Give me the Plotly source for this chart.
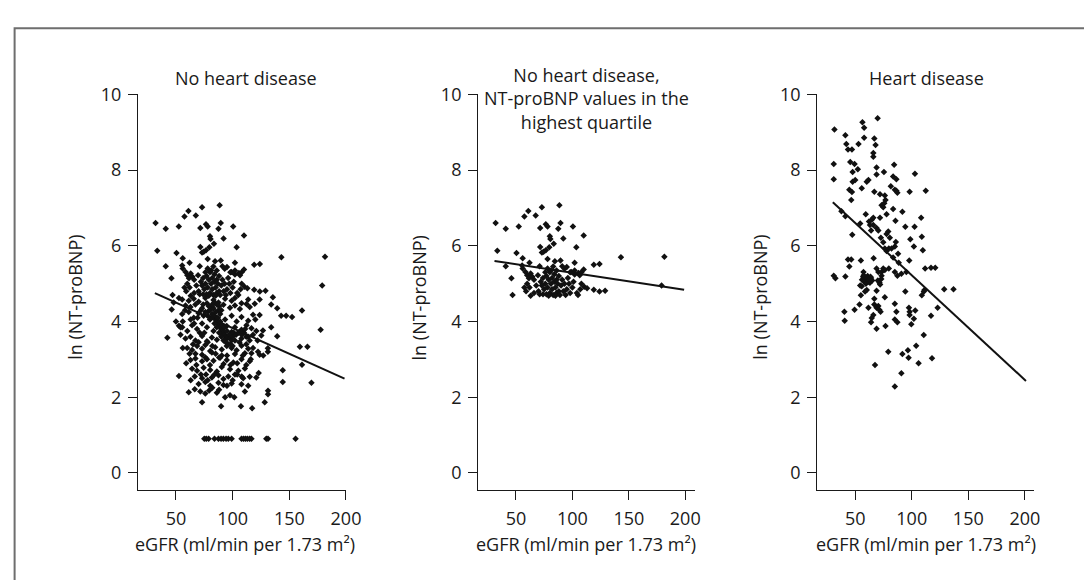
import plotly.graph_objects as go

# ---------------- data ----------------
# Panel 1: no heart disease (eGFR, ln NT-proBNP)
nhd_x = [
    32, 33.5, 41, 41, 46, 47, 50.5, 52.5, 56, 57.5, 61, 62, 55.5, 56, 67.5, 73,
    88.5, 71.5, 76.5, 78, 87.5, 89.5, 100.5, 80, 80.5, 92, 110, 71.5, 73, 74.5, 76.5,
    79.5, 83.5, 103.5, 71, 78, 84.5, 89.5, 102, 91, 93, 95, 99, 102, 105.5, 106.5, 110,
    119, 124, 143, 181.5, 179, 58.5, 60, 61.5, 63, 64.5, 69.5, 57.5, 62, 110.5, 113, 119,
    124, 129, 63, 66, 70,
    72, 73, 74, 75, 76, 77, 78, 79, 80, 80, 81, 82, 82, 83, 84, 84, 85, 86, 86, 87, 88,
    88, 89, 90, 91, 92, 93, 94, 95, 96, 97, 98, 100, 101, 104, 105, 107, 108, 71, 74,
    77, 79, 85, 68, 66, 60, 59, 78, 81, 76, 83, 86, 98, 102, 108,
    52.6, 55.5, 61.3, 65.7, 70, 75.9, 83.1, 87.5, 93.3, 99.1, 102, 107.8, 113.7, 123.8, 135.5,
    46.2, 58.4, 62.8, 67.2, 73, 77.3, 81.7, 87.5, 91.9, 97.7, 102, 106.4, 112.2, 115.1, 119.5, 134, 139.3,
    142.8, 147.2, 152.4, 55.5, 61.3, 65.7, 70, 74.4, 78.8, 84.6, 89, 93.3, 99.1, 103.5, 107.8, 113.7, 118, 123.8,
    161.2, 52.6, 54, 55.5, 64.2, 68.6, 73, 77.3, 83.1, 87.5, 90.4, 94.8, 99.1, 102, 107.8, 112.2, 116.6, 120.9,
    134, 126.7, 42.4,
    58.4, 62.8, 67.2, 73, 77.3, 81.7, 86.1, 90.4, 96.2, 102, 107.8, 113.7, 125.3, 139.3, 177.6,
    59.9, 64.2, 68.6, 73, 75.9, 80.2, 84.6, 90.4, 94.8, 99.1, 103.5, 107.8, 113.7, 118, 131.1, 159.3, 166,
    67.2, 73, 81.7, 90.4, 102, 110.8, 116.6, 122.4, 123.8, 131.1,
    62.8, 67.2, 73, 77.3, 83.1, 88.9, 94.8, 100.6, 107.8, 115.1, 161.2,
    64.2, 68.6, 74.4, 80.2, 86.1, 90.4, 97.7, 105, 110.8, 123, 144.2,
    52.6, 66.6, 73, 76.5, 81.7, 87.5, 91.9, 96.2, 102, 109.3, 115.1, 120.9,
    70, 75.9, 80.2, 87.5, 91.9, 99.1, 107.8, 113.7, 144.2, 169.5,
    61.3, 66.6, 71.5, 75.9, 79.3, 86.1, 93.3, 97.7, 101.5, 110.8, 131.2, 131.2,
    73, 89.8, 107.3, 117.2, 128.3,
    80, 82, 84, 85, 86, 87, 88, 89, 90, 91, 92, 93, 94, 95, 96, 97, 98, 99, 100, 101, 103,
    105, 107, 108, 110, 111, 112, 83, 85, 87, 89, 91, 93, 95, 79, 81, 84, 86, 88, 90, 92,
    94, 96, 98, 100, 82, 84, 86, 88, 90, 76, 78, 80, 72, 74,
    56, 60, 63, 66, 69, 71, 75, 78, 82, 85, 88, 92, 95, 98, 104, 106, 109, 112, 115, 118,
    120, 122, 127, 80, 84, 76, 70, 65, 62, 68, 72, 78, 82, 88, 95, 100, 104, 108, 112, 116,
    63, 59, 56, 54, 50, 48, 58,
    75, 76.7, 78.8, 84, 87.5, 89.8, 91.8, 94.2, 96.2, 99.1, 107.8, 109.6, 111.3, 113, 115,
    116.6, 129.7, 131.2, 155.5,
]
nhd_y = [
    6.60, 5.87, 6.45, 5.46, 5.14, 4.70, 5.81, 6.51, 5.67, 6.77, 6.92, 5.55, 5.48, 5.40, 6.80, 7.02,
    7.07, 6.47, 6.57, 6.51, 6.45, 6.60, 6.51, 6.25, 6.18, 6.19, 6.27, 5.97, 5.82, 5.84, 5.88,
    5.96, 6.05, 5.96, 5.46, 5.65, 5.59, 5.61, 5.55, 5.46, 5.39, 5.44, 5.31, 5.24, 5.28, 5.22, 5.37,
    5.50, 5.52, 5.70, 5.71, 4.95, 5.31, 5.22, 5.14, 5.27, 5.18, 5.22, 4.90, 4.90, 4.92, 4.88, 4.84,
    4.79, 4.81, 4.68, 4.75, 4.80,
    5.05, 4.95, 5.15, 4.85, 5.00, 5.20, 4.90, 5.10, 4.75, 5.30, 5.00, 4.85, 5.15, 4.70, 5.05, 5.25,
    4.90, 4.75, 5.10, 5.00, 4.80, 5.20, 4.70, 4.95, 5.10, 4.80, 5.00, 4.70, 4.85, 5.15, 5.00, 4.75,
    4.90, 5.05, 4.75, 4.70, 4.85, 5.00, 4.72, 4.72, 4.72, 4.68, 4.68, 4.95, 5.10, 5.00, 4.80, 5.40,
    5.35, 5.30, 5.45, 5.35, 5.30, 5.35, 5.30,
    4.62, 4.58, 4.55, 4.60, 4.52, 4.62, 4.57, 4.50, 4.60, 4.55, 4.62, 4.48, 4.58, 4.58, 4.64,
    4.32, 4.42, 4.38, 4.45, 4.35, 4.48, 4.40, 4.30, 4.44, 4.36, 4.42, 4.33, 4.46, 4.38, 4.47, 4.45, 4.35,
    4.15, 4.15, 4.12, 4.20, 4.25, 4.10, 4.22, 4.15, 4.28, 4.10, 4.20, 4.05, 4.15, 4.00, 4.12, 4.02, 4.18, 4.17,
    4.29, 3.89, 3.85, 3.85, 3.90, 3.80, 3.95, 3.85, 3.75, 3.92, 3.80, 3.88, 3.72, 3.85, 3.78, 3.90, 3.82, 3.75,
    3.85, 3.76, 3.57,
    3.55, 3.60, 3.50, 3.62, 3.48, 3.58, 3.52, 3.65, 3.60, 3.50, 3.55, 3.60, 3.63, 3.61, 3.78,
    3.30, 3.25, 3.35, 3.28, 3.38, 3.22, 3.32, 3.26, 3.35, 3.30, 3.24, 3.36, 3.28, 3.30, 3.29, 3.33, 3.33,
    3.15, 3.12, 3.18, 3.10, 3.14, 3.16, 3.16, 3.20, 3.12, 3.20,
    2.98, 3.02, 2.95, 3.00, 2.96, 3.04, 2.98, 2.92, 3.00, 2.95, 2.86,
    2.75, 2.70, 2.78, 2.72, 2.68, 2.80, 2.74, 2.70, 2.76, 2.64, 2.71,
    2.56, 2.55, 2.50, 2.60, 2.52, 2.58, 2.48, 2.55, 2.60, 2.50, 2.54, 2.52,
    2.35, 2.40, 2.30, 2.38, 2.32, 2.36, 2.34, 2.30, 2.40, 2.38,
    2.13, 2.21, 2.15, 2.10, 2.18, 2.12, 2.00, 2.05, 2.00, 2.15, 2.17, 2.08,
    1.87, 1.76, 1.76, 1.71, 1.87,
    4.30, 4.20, 4.15, 4.05, 4.00, 3.95, 3.90, 3.85, 3.80, 3.75, 3.70, 3.65, 3.60, 3.55, 3.60,
    3.65, 3.55, 3.50, 3.60, 3.70, 3.65, 3.70, 3.75, 3.65, 3.70, 3.80, 3.60, 4.35, 4.25, 4.10,
    4.00, 3.90, 3.85, 3.75, 4.40, 4.10, 3.95, 3.85, 3.70, 3.60, 3.50, 3.45, 3.40, 3.40, 3.35,
    4.45, 4.50, 4.45, 4.40, 4.30, 4.25, 4.15, 4.05, 4.30, 4.45,
    4.00, 3.75, 4.05, 3.95, 4.10, 3.70, 3.70, 3.45, 3.35, 3.15, 3.05, 2.88, 3.10, 2.85, 2.90,
    3.45, 3.10, 3.40, 3.50, 3.65, 4.05, 3.50, 3.10, 2.85, 2.60, 3.05, 3.45, 3.40, 3.15, 2.85,
    2.60, 2.45, 2.25, 2.20, 2.30, 2.45, 2.60, 2.55, 2.85, 3.00, 2.45, 2.90, 3.30, 3.65, 4.00,
    4.50, 4.30,
    0.9, 0.9, 0.9, 0.9, 0.9, 0.9, 0.9, 0.9, 0.9, 0.9, 0.9, 0.9, 0.9, 0.9, 0.9,
    0.9, 0.9, 0.9, 0.9,
]

# Panel 2: highest NT-proBNP quartile of the no-heart-disease group
Q4_CUTOFF = 4.65

# Panel 3: heart disease
hd_x = [
    31.6, 31, 31, 41.3, 42.1, 43.6, 47.1, 45.6, 49.4, 47.7, 47.7, 52.3, 52.9, 56.4, 57.9, 57.9,
    69.8, 66.9, 68, 66, 66, 50, 55.8, 61.7, 60.2, 44.8, 47.1, 46.5, 68.9, 68.9, 75.4, 84.4,
    83.5, 86.4, 66.9, 71.9, 76.2, 76.8, 73.3, 74.8, 75.7, 81.5, 85, 86.4, 87.3, 98.1, 102.8, 112.4,
    37.8, 41.3, 47.4, 54.4, 59.3, 62.2, 63.1, 64.6, 64, 66, 66, 68.9, 70.4, 71.9, 77.7, 83.5,
    91.7, 85.6, 72.7, 74.8, 77.7, 79.2, 80.6, 76.2, 77.7, 79.7, 82.1, 85, 85.9, 94.3, 98.7, 101.9,
    102.5, 108.3, 108.9, 109.8, 83.5, 87.9, 88.5, 97.8, 95.2, 90.8, 87.3, 85, 31, 32.5, 41.3, 43.6,
    46.5, 44.8, 55, 66.3, 57.3, 58.7, 55.8, 55, 58.7, 60.2,
    56, 57, 58, 59, 60, 61, 62, 63, 64, 65, 57.5, 59.5, 61.5, 63.5, 60.5, 62.5,
    68.9, 70.4, 73.3, 73.3, 74.8, 76.2, 70, 71.5, 73, 72, 79.7,
    68.9, 66.9, 68.9, 66.9, 70.4, 71.3, 72.4, 61.7, 66, 64.6, 64, 68.9, 76.8, 76.2, 85, 86.4, 85,
    87.3, 94.3, 97.5, 98.1, 98.1, 103.1, 101.9, 99.6, 40.4, 40.7, 49.4, 53.8, 54.4, 108.9, 110.7,
    111.2, 117, 120.8, 111.8, 128.7, 136.9, 122.9, 117, 110.6, 103.9, 96.6, 97.2, 106, 117.9, 91.7,
    79.2, 67.5, 90.8, 85,
]
hd_y = [
    9.07, 8.16, 7.76, 8.92, 8.69, 8.54, 8.54, 8.21, 8.16, 7.95, 7.69, 8.02, 8.69, 9.26, 9.12, 8.85,
    9.37, 8.83, 8.66, 8.45, 8.35, 7.74, 7.52, 7.74, 7.69, 7.48, 7.42, 7.21, 8.07, 7.88, 7.95, 8.14,
    7.83, 7.76, 7.43, 7.36, 7.33, 7.21, 7.07, 7.02, 7.12, 7.57, 7.48, 7.45, 7.40, 7.43, 7.90, 7.45,
    6.91, 6.78, 6.29, 6.59, 6.83, 6.64, 6.55, 6.69, 6.40, 6.74, 6.55, 6.47, 6.40, 6.74, 6.83, 6.97,
    6.90, 6.66, 6.21, 6.09, 6.31, 6.38, 6.21, 5.93, 5.86, 5.93, 5.93, 5.98, 6.10, 6.50, 6.17, 5.98,
    6.50, 6.74, 6.24, 5.88, 5.69, 5.79, 5.55, 5.61, 5.31, 5.26, 5.21, 5.31, 5.21, 5.14, 5.19, 5.64,
    5.64, 5.45, 5.61, 5.67, 5.31, 5.12, 4.93, 4.69, 4.79, 4.83,
    5.10, 5.18, 5.05, 5.15, 5.08, 5.20, 5.12, 5.02, 5.15, 5.08, 5.22, 5.00, 5.05, 5.18, 5.14, 5.10,
    5.40, 5.31, 5.31, 5.21, 5.40, 5.36, 5.08, 5.02, 5.12, 4.98, 5.40,
    4.81, 4.60, 4.36, 4.45, 4.41, 4.31, 4.26, 4.36, 4.17, 4.09, 3.98, 3.81, 3.88, 4.64, 4.47, 4.26, 4.05,
    3.98, 4.79, 4.36, 4.26, 4.17, 4.29, 4.07, 3.93, 4.26, 4.02, 4.31, 4.45, 4.95, 4.69, 4.79,
    4.83, 5.42, 5.42, 5.40, 4.85, 4.85, 4.36, 4.15, 3.64, 3.36, 3.24, 3.04, 2.90, 3.03, 3.14,
    3.20, 2.85, 2.63, 2.28,
]

# Regression lines (end points, eGFR and fitted ln NT-proBNP)
fit_nhd_x, fit_nhd_y = [31.4, 198.7], [4.75, 2.49]
fit_q4_x, fit_q4_y = [31.0, 199.0], [5.60, 4.84]
fit_hd_x, fit_hd_y = [30.2, 201.0], [7.15, 2.43]

titles = ["No heart disease",
          "No heart disease,<br>NT-proBNP values in the<br>highest quartile",
          "Heart disease"]
x_title = "eGFR (ml/min per 1.73 m²)"
y_title = "ln (NT-proBNP)"
x_ticks = [50, 100, 150, 200]
y_ticks = [0, 2, 4, 6, 8, 10]

q4_x = [x for x, y in zip(nhd_x, nhd_y) if y >= Q4_CUTOFF]
q4_y = [y for y in nhd_y if y >= Q4_CUTOFF]

# ---------------- figure ----------------
W, H = 1092, 580
FONT = "Open Sans"
FS = 18
INK = "#1a1a1a"

fig = go.Figure()

panels = [
    (nhd_x, nhd_y, fit_nhd_x, fit_nhd_y),
    (q4_x, q4_y, fit_q4_x, fit_q4_y),
    (hd_x, hd_y, fit_hd_x, fit_hd_y),
]

# pixel geometry of each panel: (left px, right px, x range)
geom = [
    (131.7, 342.7, [16.41, 200.0]),
    (476.6, 696.2, [16.45, 208.3]),
    (820.5, 1040.5, [16.4, 208.3]),
]
y_top_px, y_bot_px = 75.0, 480.0
y_range = [-0.457, 10.0]

for i, ((px, py, fx, fy), (l, r, xr)) in enumerate(zip(panels, geom)):
    n = "" if i == 0 else str(i + 1)
    fig.add_trace(go.Scatter(
        x=px, y=py, mode="markers", xaxis="x" + n, yaxis="y" + n,
        marker=dict(symbol="diamond", size=5, color="#111111", line=dict(width=0)),
        showlegend=False, hoverinfo="x+y"))
    fig.add_trace(go.Scatter(
        x=fx, y=fy, mode="lines", xaxis="x" + n, yaxis="y" + n,
        line=dict(color="#111111", width=2), showlegend=False, hoverinfo="skip"))
    common = dict(showline=True, linecolor=INK, linewidth=1, ticks="outside",
                  ticklen=9, tickwidth=1, tickcolor=INK, showgrid=False, zeroline=False,
                  tickfont=dict(family=FONT, size=FS, color=INK))
    fig.update_layout(**{
        "xaxis" + n: dict(domain=[l / W, r / W], range=xr, tickvals=x_ticks,
                          anchor="y" + n, ticklabelstandoff=3, **common),
        "yaxis" + n: dict(domain=[1 - y_bot_px / H, 1 - y_top_px / H], range=y_range,
                          tickvals=y_ticks, anchor="x" + n, ticklabelstandoff=3, **common),
    })

ann = []
title_pos = [(241.7, 58.0), (586.5, 79.5), (930.8, 58.0)]
for (tx, ty), t in zip(title_pos, titles):
    ann.append(dict(x=tx / W, y=1 - ty / H, xref="paper", yref="paper", text=t,
                    showarrow=False, xanchor="center", yanchor="middle",
                    font=dict(family=FONT, size=FS, color=INK)))
for cx in [240.0, 586.5, 930.5]:
    ann.append(dict(x=cx / W, y=1 - 535.0 / H, xref="paper", yref="paper", text=x_title,
                    showarrow=False, xanchor="center", yanchor="middle",
                    font=dict(family=FONT, size=FS, color=INK)))
for cx in [68.3, 416.7, 762.7]:
    ann.append(dict(x=cx / W, y=1 - 282.8 / H, xref="paper", yref="paper", text=y_title,
                    showarrow=False, xanchor="center", yanchor="middle", textangle=-90,
                    font=dict(family=FONT, size=FS, color=INK)))

fig.update_layout(
    width=W, height=H, margin=dict(l=0, r=0, t=0, b=0),
    paper_bgcolor="white", plot_bgcolor="white",
    annotations=ann,
    shapes=[dict(type="rect", xref="paper", yref="paper",
                 x0=6.7 / W, y0=-0.1, x1=1.1, y1=1 - 7.3 / H,
                 line=dict(color="#6e6e6e", width=2))],
)

fig.write_html("out.html")
